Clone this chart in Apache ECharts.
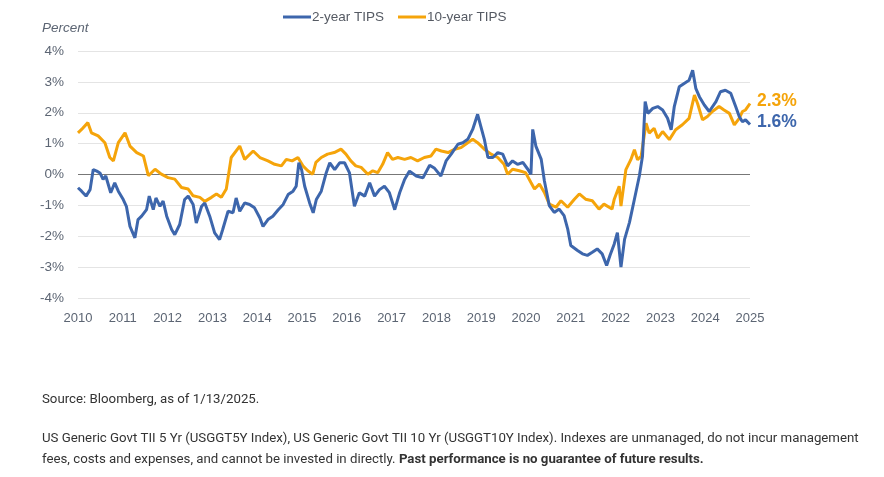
<!DOCTYPE html>
<html>
<head>
<meta charset="utf-8">
<script src="https://cdn.jsdelivr.net/npm/echarts@6/dist/echarts.min.js"></script>
<style>
  html, body { margin: 0; padding: 0; background: #ffffff; }
  #chart { width: 884px; height: 477px; }
</style>
</head>
<body>
<div id="chart"></div>
<script>
// ---- Data (decimal year, real yield %) ----
const seriesNames = ['2-year TIPS', '10-year TIPS'];
const yTicks = [-4, -3, -2, -1, 0, 1, 2, 3, 4];
const xTicks = [2010, 2011, 2012, 2013, 2014, 2015, 2016, 2017, 2018, 2019, 2020, 2021, 2022, 2023, 2024, 2025];

const twoYear = [
  [2010.00,-0.43],[2010.08,-0.54],[2010.18,-0.70],[2010.27,-0.49],[2010.34,0.16],[2010.42,0.11],
  [2010.49,0.05],[2010.56,-0.16],[2010.62,-0.05],[2010.73,-0.59],[2010.82,-0.27],[2010.90,-0.54],
  [2011.01,-0.81],[2011.08,-1.03],[2011.16,-1.68],[2011.27,-2.05],[2011.34,-1.46],[2011.42,-1.35],
  [2011.53,-1.14],[2011.59,-0.70],[2011.68,-1.14],[2011.74,-0.76],[2011.83,-1.03],[2011.90,-0.86],
  [2011.98,-1.35],[2012.09,-1.78],[2012.16,-1.95],[2012.27,-1.62],[2012.38,-0.81],[2012.46,-0.70],
  [2012.57,-0.97],[2012.64,-1.57],[2012.76,-1.03],[2012.83,-0.92],[2012.94,-1.35],[2013.05,-1.89],
  [2013.16,-2.11],[2013.23,-1.78],[2013.35,-1.19],[2013.46,-1.24],[2013.53,-0.76],[2013.61,-1.19],
  [2013.72,-0.92],[2013.83,-0.97],[2013.94,-1.08],[2014.06,-1.41],[2014.13,-1.68],[2014.24,-1.46],
  [2014.35,-1.35],[2014.47,-1.14],[2014.58,-0.97],[2014.69,-0.65],[2014.80,-0.54],[2014.87,-0.38],
  [2014.93,0.38],[2014.99,0.16],[2015.06,-0.38],[2015.17,-0.92],[2015.25,-1.24],[2015.32,-0.81],
  [2015.43,-0.54],[2015.54,0.05],[2015.62,0.38],[2015.73,0.16],[2015.84,0.38],[2015.95,0.38],
  [2016.06,0.05],[2016.17,-1.03],[2016.28,-0.59],[2016.40,-0.70],[2016.51,-0.27],[2016.62,-0.70],
  [2016.73,-0.49],[2016.84,-0.38],[2016.95,-0.59],[2017.07,-1.14],[2017.18,-0.59],[2017.29,-0.16],
  [2017.40,0.11],[2017.55,-0.05],[2017.70,-0.11],[2017.85,0.30],[2017.96,0.20],[2018.10,-0.05],
  [2018.22,0.45],[2018.33,0.66],[2018.48,0.98],[2018.59,1.03],[2018.70,1.14],[2018.81,1.46],
  [2018.92,1.95],[2018.99,1.57],[2019.07,1.14],[2019.15,0.55],[2019.26,0.55],[2019.37,0.71],
  [2019.48,0.66],[2019.59,0.28],[2019.70,0.44],[2019.81,0.33],[2019.93,0.39],[2020.04,0.17],
  [2020.11,0.01],[2020.15,1.46],[2020.22,0.92],[2020.34,0.49],[2020.41,-0.20],[2020.52,-1.01],
  [2020.63,-1.23],[2020.74,-1.12],[2020.85,-1.33],[2020.93,-1.76],[2021.00,-2.30],[2021.15,-2.46],
  [2021.26,-2.57],[2021.37,-2.62],[2021.48,-2.52],[2021.59,-2.41],[2021.70,-2.57],[2021.80,-2.95],
  [2021.88,-2.60],[2021.97,-2.25],[2022.04,-1.88],[2022.12,-3.00],[2022.20,-2.10],[2022.31,-1.55],
  [2022.42,-0.80],[2022.53,-0.05],[2022.60,0.59],[2022.66,2.36],[2022.72,1.98],[2022.83,2.14],
  [2022.94,2.20],[2023.05,2.09],[2023.16,1.82],[2023.24,1.45],[2023.31,2.20],[2023.42,2.84],
  [2023.53,2.95],[2023.64,3.05],[2023.72,3.38],[2023.79,2.79],[2023.87,2.52],[2023.98,2.25],
  [2024.09,2.04],[2024.24,2.36],[2024.34,2.68],[2024.45,2.73],[2024.57,2.63],[2024.68,2.20],
  [2024.76,1.88],[2024.83,1.71],[2024.90,1.77],[2025.00,1.62]
];

const tenYear = [
  [2010.00,1.35],[2010.08,1.46],[2010.22,1.68],[2010.30,1.35],[2010.45,1.25],[2010.60,1.03],
  [2010.71,0.55],[2010.79,0.44],[2010.90,1.03],[2011.05,1.35],[2011.16,0.92],[2011.31,0.71],
  [2011.46,0.60],[2011.57,-0.04],[2011.72,0.17],[2011.86,0.01],[2012.01,-0.10],[2012.16,-0.15],
  [2012.31,-0.42],[2012.46,-0.47],[2012.57,-0.69],[2012.72,-0.74],[2012.83,-0.87],[2012.98,-0.74],
  [2013.09,-0.63],[2013.20,-0.74],[2013.31,-0.47],[2013.42,0.55],[2013.61,0.92],[2013.72,0.49],
  [2013.91,0.76],[2014.06,0.55],[2014.24,0.44],[2014.39,0.33],[2014.54,0.28],[2014.65,0.49],
  [2014.78,0.44],[2014.91,0.55],[2015.02,0.28],[2015.13,0.12],[2015.24,0.01],[2015.31,0.39],
  [2015.43,0.55],[2015.57,0.66],[2015.72,0.71],[2015.87,0.82],[2015.98,0.66],[2016.09,0.44],
  [2016.20,0.28],[2016.32,0.23],[2016.47,0.01],[2016.58,0.12],[2016.69,0.06],[2016.80,0.33],
  [2016.91,0.71],[2017.02,0.49],[2017.14,0.55],[2017.29,0.49],[2017.43,0.55],[2017.58,0.44],
  [2017.73,0.55],[2017.88,0.60],[2017.99,0.82],[2018.11,0.76],[2018.26,0.71],[2018.41,0.82],
  [2018.55,0.87],[2018.70,1.03],[2018.81,1.14],[2018.92,1.03],[2019.07,0.82],[2019.22,0.66],
  [2019.37,0.55],[2019.51,0.33],[2019.59,0.01],[2019.70,0.17],[2019.85,0.12],[2019.99,0.06],
  [2020.11,-0.26],[2020.19,-0.47],[2020.30,-0.31],[2020.41,-0.58],[2020.52,-0.96],[2020.67,-1.06],
  [2020.78,-0.85],[2020.93,-1.06],[2021.08,-0.80],[2021.19,-0.63],[2021.33,-0.80],[2021.48,-0.85],
  [2021.63,-1.12],[2021.74,-0.96],[2021.92,-1.12],[2021.97,-0.80],[2022.08,-0.38],[2022.12,-1.02],
  [2022.23,0.16],[2022.34,0.48],[2022.42,0.80],[2022.49,0.48],[2022.57,0.59],[2022.68,1.66],
  [2022.75,1.34],[2022.86,1.50],[2022.94,1.18],[2023.05,1.39],[2023.20,1.13],[2023.34,1.45],
  [2023.49,1.61],[2023.64,1.82],[2023.76,2.57],[2023.83,2.30],[2023.94,1.77],[2024.05,1.88],
  [2024.16,2.04],[2024.31,2.20],[2024.42,2.09],[2024.54,1.98],[2024.65,1.61],[2024.76,1.82],
  [2024.83,2.04],[2024.90,2.09],[2025.00,2.30]
];

const BLUE = '#3d66ac';
const ORANGE = '#f5a40a';
const AXIS_TEXT = '#5c6573';
const NOTE_FONT = '13.25px Roboto, sans-serif';

const chart = echarts.init(document.getElementById('chart'), null, { renderer: 'canvas' });

const gridColors = yTicks.map(v => v === 0 ? '#777777' : '#e4e4e4');

chart.setOption({
  backgroundColor: '#ffffff',
  animation: false,
  textStyle: { fontFamily: 'Liberation Sans, Arial, sans-serif' },
  legend: {
    data: seriesNames,
    left: 278,
    top: 5,
    itemWidth: 28,
    itemHeight: 3,
    itemGap: 14,
    icon: 'rect',
    textStyle: { color: '#555a63', fontSize: 13.5, padding: [0, 0, 0, -4] }
  },
  grid: { left: 78, right: 134, top: 51, bottom: 179, containLabel: false },
  xAxis: {
    type: 'value',
    min: xTicks[0],
    max: xTicks[xTicks.length - 1],
    interval: 1,
    axisLine: { show: false },
    axisTick: { show: false },
    splitLine: { show: false },
    axisLabel: {
      color: AXIS_TEXT, fontSize: 13, margin: 14,
      formatter: v => String(Math.round(v))
    }
  },
  yAxis: {
    type: 'value',
    min: yTicks[0],
    max: yTicks[yTicks.length - 1],
    interval: 1,
    axisLine: { show: false },
    axisTick: { show: false },
    splitLine: { show: true, lineStyle: { color: gridColors, width: 1 } },
    axisLabel: { color: AXIS_TEXT, fontSize: 13.5, margin: 14, formatter: '{value}%' }
  },
  series: [
    {
      name: seriesNames[0], type: 'line', data: twoYear, showSymbol: false, z: 3,
      lineStyle: { color: BLUE, width: 3 }, itemStyle: { color: BLUE },
      endLabel: {
        show: true, distance: 7, offset: [0, -2],
        formatter: p => p.value[1].toFixed(1) + '%',
        color: BLUE, fontSize: 17.5, fontWeight: 'bold'
      }
    },
    {
      name: seriesNames[1], type: 'line', data: tenYear, showSymbol: false, z: 2,
      lineStyle: { color: ORANGE, width: 3 }, itemStyle: { color: ORANGE },
      endLabel: {
        show: true, distance: 7, offset: [0, -2],
        formatter: p => p.value[1].toFixed(1) + '%',
        color: ORANGE, fontSize: 17.5, fontWeight: 'bold'
      }
    }
  ],
  graphic: [
    {
      type: 'text', left: 42, top: 21,
      style: { text: 'Percent', fill: '#5c6573', font: 'italic 13.5px "Liberation Sans", Arial, sans-serif' }
    },
    {
      type: 'text', left: 42, top: 393,
      style: { text: 'Source: Bloomberg, as of 1/13/2025.', fill: '#333333', font: NOTE_FONT }
    },
    {
      type: 'text', left: 42, top: 432,
      style: {
        text: 'US Generic Govt TII 5 Yr (USGGT5Y Index), US Generic Govt TII 10 Yr (USGGT10Y Index). Indexes are unmanaged, do not incur management',
        fill: '#333333', font: NOTE_FONT
      }
    },
    {
      type: 'text', left: 42, top: 453,
      style: {
        text: 'fees, costs and expenses, and cannot be invested in directly. {b|Past performance is no guarantee of future results.}',
        fill: '#333333', font: NOTE_FONT,
        rich: { b: { fontWeight: 'bold', fontSize: 13.25, fontFamily: 'Roboto, sans-serif', fill: '#333333' } }
      }
    }
  ]
});
</script>
</body>
</html>
